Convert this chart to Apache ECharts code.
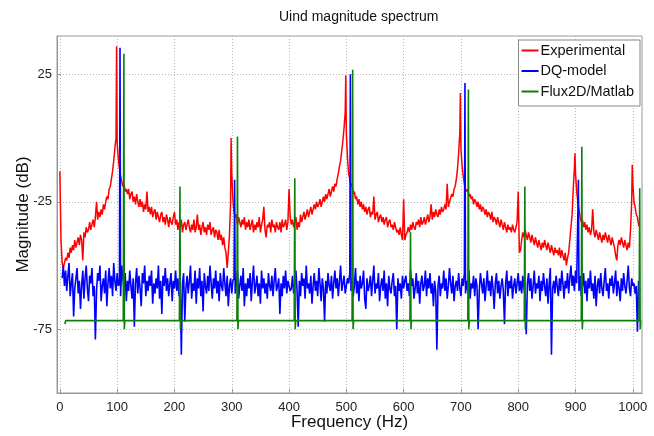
<!DOCTYPE html>
<html><head><meta charset="utf-8">
<script src="https://cdn.jsdelivr.net/npm/echarts@6/dist/echarts.min.js"></script>
<style>html,body{margin:0;padding:0;background:#fff}#c{width:654px;height:436px}</style>
</head><body><div id="c"></div>
<script>
const chartTitle = 'Uind magnitude spectrum';
const xName = 'Frequency (Hz)';
const yName = 'Magnitude (dB)';
const seriesNames = ['Experimental', 'DQ-model', 'Flux2D/Matlab'];
const xTicks = [0, 100, 200, 300, 400, 500, 600, 700, 800, 900, 1000];
const yTicks = [-75, -25, 25];

// FFT bin spacing (Hz) of the sampled spectra
const binStep = 2;

// Experimental spectrum, bins from 0 Hz (one row = 100 Hz)
const redStart = 0;
const redValues = [
  -13,-40,-49,-51,-49,-47,-48,-45,-47,-43,-45,-42,-44,-40,-43,-41,-39,-42,-38,-40,-48,-37,-39,-35,-37,-36,-33,-36,-34,-32,-35,-31,-25,-32,-29,-31,-28,-30,-26,-28,-25,-23,-24,-20,-19,-16,-13,-9,-4,0,
  -2,-8,-12,-15,-17,-19,-18,-21,-20,-22,-20,-24,-22,-21,-25,-23,-26,-22,-25,-27,-24,-27,-25,-29,-26,-28,-21,-29,-27,-30,-27,-31,-29,-28,-32,-29,-31,-33,-30,-29,-33,-31,-34,-30,-32,-35,-31,-33,-34,-31,
  -29,-34,-32,-36,-33,-35,-32,-37,-34,-33,-36,-34,-32,-35,-37,-34,-36,-32,-37,-35,-30,-36,-34,-38,-35,-33,-37,-35,-38,-34,-36,-33,-38,-36,-35,-39,-36,-37,-40,-36,-40,-38,-42,-39,-43,-45,-51,-45,-38,-25,
  -14,-24,-29,-31,-30,-34,-31,-33,-35,-32,-34,-31,-36,-33,-35,-32,-36,-34,-32,-37,-34,-36,-33,-35,-31,-37,-34,-32,-27,-36,-39,-34,-35,-33,-37,-32,-35,-34,-37,-33,-35,-36,-33,-37,-32,-35,-34,-32,-36,-33,
  -20,-31,-34,-32,-35,-33,-31,-36,-33,-35,-30,-33,-31,-29,-32,-30,-28,-31,-29,-27,-30,-28,-26,-28,-25,-27,-26,-24,-27,-25,-23,-25,-22,-24,-22,-20,-23,-21,-19,-21,-18,-19,-16,-14,-11,-9,-5,-1,4,10,
  2,-8,-14,-16,-19,-18,-22,-21,-24,-23,-26,-24,-27,-25,-28,-26,-29,-27,-30,-28,-27,-31,-29,-30,-23,-32,-30,-29,-33,-31,-30,-33,-31,-34,-32,-31,-35,-33,-32,-35,-34,-36,-33,-35,-37,-36,-38,-35,-38,-40,
  -24,-40,-38,-37,-35,-37,-34,-36,-33,-35,-36,-33,-34,-32,-35,-31,-34,-33,-31,-34,-32,-30,-33,-31,-26,-32,-29,-31,-28,-30,-31,-28,-30,-27,-29,-28,-26,-28,-18,-27,-25,-25,-22,-23,-20,-19,-16,-12,-6,2,
  -4,-11,-15,-18,-20,-21,-20,-23,-22,-24,-23,-26,-24,-25,-27,-25,-28,-26,-29,-27,-28,-30,-28,-31,-29,-30,-32,-29,-33,-31,-32,-34,-31,-33,-35,-32,-34,-36,-33,-35,-37,-34,-36,-35,-37,-34,-36,-37,-35,-33,
  -21,-45,-44,-40,-37,-39,-36,-38,-40,-37,-39,-41,-38,-40,-42,-39,-41,-43,-40,-42,-44,-41,-43,-40,-42,-44,-41,-43,-45,-42,-44,-46,-43,-45,-44,-46,-43,-47,-44,-46,-48,-45,-50,-47,-45,-40,-35,-30,-20,-12,
  -14,-21,-25,-28,-31,-33,-32,-35,-33,-36,-34,-37,-35,-38,-36,-28,-37,-39,-36,-38,-40,-37,-39,-41,-38,-40,-37,-39,-41,-38,-40,-42,-39,-41,-43,-46,-48,-42,-40,-42,-39,-41,-43,-40,-42,-44,-41,-43,-36,-25,
  -18,-25,-27,-30,-31,-34,-35
];
const redPeaks = [[99, 36], [298.8, 0], [499, 24.5], [699, 17.6], [899, -6], [999, -10.5]];

// DQ-model spectrum, bins from 4 Hz (one row = 100 Hz)
const blueStart = 4;
const blueValues = [
  -55,-50,-58,-52,-60,-54,-49,-62,-57,-53,-70,-59,-55,-51,-61,-56,-67,-58,-52,-63,-55,-50,-59,-64,-54,-57,-51,-62,-58,-79,-60,-53,-56,-50,-64,-58,-55,-61,-52,-66,-57,-51,-59,-54,-62,-49,-56,-60,-53,-58,
  -57,-62,-50,-55,-59,-53,-64,-56,-60,-52,-58,-63,-55,-74,-57,-51,-61,-54,-59,-66,-53,-57,-50,-62,-56,-60,-54,-58,-52,-65,-57,-61,-55,-59,-50,-63,-56,-69,-54,-58,-51,-60,-55,-62,-57,-53,-64,-56,-59,-52,
  -60,-55,-62,-58,-85,-57,-53,-72,-59,-54,-61,-56,-50,-63,-57,-60,-52,-65,-55,-59,-51,-62,-56,-68,-53,-58,-61,-54,-60,-50,-57,-63,-55,-59,-52,-61,-56,-64,-53,-58,-60,-51,-57,-62,-54,-66,-58,-55,-61,-56,
  -55,-61,-57,-52,-63,-58,-54,-60,-51,-66,-57,-62,-55,-59,-53,-64,-56,-50,-61,-58,-54,-62,-57,-65,-52,-59,-55,-61,-57,-63,-53,-58,-60,-54,-62,-56,-51,-60,-58,-55,-69,-57,-62,-54,-59,-52,-61,-56,-58,-60,
  -59,-54,-61,-57,-52,-60,-74,-56,-62,-53,-58,-55,-63,-50,-59,-57,-61,-54,-65,-58,-53,-60,-56,-62,-51,-57,-64,-55,-59,-72,-56,-61,-53,-58,-60,-54,-63,-57,-52,-59,-55,-62,-56,-50,-60,-57,-54,-61,-58,-55,
  -57,-53,-60,-55,-62,-58,-51,-61,-56,-64,-54,-59,-57,-52,-63,-67,-55,-60,-58,-54,-62,-56,-50,-61,-57,-59,-53,-64,-58,-55,-60,-52,-63,-57,-66,-54,-59,-61,-56,-53,-62,-58,-75,-55,-60,-57,-63,-54,-59,-56,
  -54,-60,-57,-62,-52,-58,-55,-63,-59,-53,-61,-56,-65,-57,-54,-60,-58,-52,-62,-55,-59,-53,-61,-57,-66,-56,-60,-83,-58,-54,-62,-57,-59,-52,-60,-55,-63,-58,-51,-57,-61,-54,-64,-58,-56,-60,-53,-59,-62,-55,
  -58,-53,-61,-56,-60,-52,-63,-57,-59,-54,-62,-55,-58,-75,-60,-53,-57,-61,-55,-64,-58,-52,-60,-56,-62,-54,-59,-67,-57,-53,-61,-56,-63,-58,-55,-60,-73,-57,-52,-62,-56,-59,-54,-63,-58,-55,-61,-57,-53,-60,
  -56,-61,-54,-59,-62,-77,-57,-53,-60,-55,-63,-58,-52,-61,-57,-59,-54,-64,-56,-60,-53,-58,-62,-55,-65,-57,-51,-85,-59,-56,-61,-54,-58,-62,-55,-60,-52,-57,-63,-56,-59,-53,-61,-55,-50,-58,-54,-60,-52,-57,
  -57,-60,-54,-62,-58,-53,-61,-56,-64,-55,-59,-52,-60,-57,-63,-54,-66,-58,-55,-61,-53,-59,-62,-56,-51,-60,-57,-63,-55,-58,-54,-61,-57,-52,-62,-56,-59,-64,-55,-60,-53,-58,-61,-56,-50,-59,-62,-55,-58,-57,
  -61,-58,-76,-56,-60
];
const bluePeaks = [[105, 35.4], [305, -16.4], [507, 25], [707, 21.6], [905, -16.4]];

// Flux2D/Matlab spectrum (sparse: flat floor with harmonic lines)
const greenFreq = [9, 10,
  110.7, 111.7, 112.5, 113.3,  208.6, 209.6, 210.4, 211.2,  309, 310, 310.8, 311.6,
  409, 410, 410.8, 411.6,  510, 511, 511.8, 512.6,  611, 612, 612.8, 613.6,
  712, 713, 713.8, 714.6,  810.5, 811.5, 812.3, 813.1,  910, 911, 911.8, 912.6,
  1011, 1012, 1012.8, 1013.6];
const greenValues = [-73, -71.6,
  -71.6, 33, -75, -71.6,  -71.6, -19, -75, -71.6,  -71.6, 0.6, -75, -71.6,
  -71.6, -15.8, -75, -71.6,  -71.6, 26.8, -75, -71.6,  -71.6, -37, -75, -71.6,
  -71.6, 19, -75, -71.6,  -71.6, -19, -75, -71.6,  -71.6, -3.4, -75, -71.6,
  -71.6, -19.7, -75, -71.6];

function binned(start, vals, peaks) {
  const pts = vals.map((v, i) => [start + i * binStep, v]);
  peaks.forEach(p => pts.push([p[0], p[1]]));
  pts.sort((a, b) => a[0] - b[0]);
  return pts;
}
const redData = binned(redStart, redValues, redPeaks);
const blueData = binned(blueStart, blueValues, bluePeaks);
const greenData = greenFreq.map((f, i) => [f, greenValues[i]]);

const FONT = 'Liberation Sans, Arial, sans-serif';
const gridLine = { show: true, lineStyle: { color: '#b5b5b5', type: [1, 2], width: 1 } };
const chart = echarts.init(document.getElementById('c'), null, { renderer: 'canvas' });
chart.setOption({
  animation: false,
  backgroundColor: '#fff',
  title: {
    text: chartTitle, left: 279, top: 10, padding: 0,
    textStyle: { fontFamily: FONT, fontSize: 14, fontWeight: 'normal', color: '#111' }
  },
  grid: { left: 57, right: 12, top: 36, bottom: 43, outerBoundsMode: 'none', containLabel: false, show: true, borderColor: '#999', borderWidth: 1, backgroundColor: '#fff' },
  legend: {
    data: seriesNames, orient: 'vertical', right: 14, top: 40,
    icon: 'rect', itemWidth: 17, itemHeight: 2, itemGap: 5.5,
    backgroundColor: '#fff', borderColor: '#888', borderWidth: 1, borderRadius: 0,
    padding: [3, 6, 7, 3],
    textStyle: { fontFamily: FONT, fontSize: 14.5, color: '#111', padding: [0, 0, 0, -3] }
  },
  xAxis: {
    type: 'value', min: -5, max: 1016,
    name: xName, nameLocation: 'middle', nameGap: 21, nameMoveOverlap: false,
    nameTextStyle: { fontFamily: FONT, fontSize: 17, color: '#111' },
    axisLine: { show: true, onZero: false, lineStyle: { color: '#999' } },
    axisTick: { show: true, inside: true, length: 4, customValues: xTicks, lineStyle: { color: '#999' } },
    axisLabel: { customValues: xTicks, margin: 8, fontFamily: FONT, fontSize: 13, color: '#222', formatter: v => String(v) },
    splitLine: gridLine
  },
  yAxis: {
    type: 'value', min: -100, max: 40,
    name: yName, nameLocation: 'middle', nameGap: 25, nameRotate: 90, nameMoveOverlap: false,
    nameTextStyle: { fontFamily: FONT, fontSize: 17, color: '#111' },
    axisLine: { show: true, onZero: false, lineStyle: { color: '#999' } },
    axisTick: { show: true, inside: true, length: 4, customValues: yTicks, lineStyle: { color: '#999' } },
    axisLabel: { customValues: yTicks, margin: 5, fontFamily: FONT, fontSize: 13, color: '#222', formatter: v => String(v) },
    splitLine: gridLine
  },
  series: [
    { name: seriesNames[0], type: 'line', data: redData, symbol: 'none', lineStyle: { color: '#ff0000', width: 1.5 }, itemStyle: { color: '#ff0000' }, z: 2 },
    { name: seriesNames[1], type: 'line', data: blueData, symbol: 'none', lineStyle: { color: '#0000ff', width: 1.6 }, itemStyle: { color: '#0000ff' }, z: 3 },
    { name: seriesNames[2], type: 'line', data: greenData, symbol: 'none', lineStyle: { color: '#0a800a', width: 1.6 }, itemStyle: { color: '#0a800a' }, z: 4 }
  ]
});
</script>
</body></html>
